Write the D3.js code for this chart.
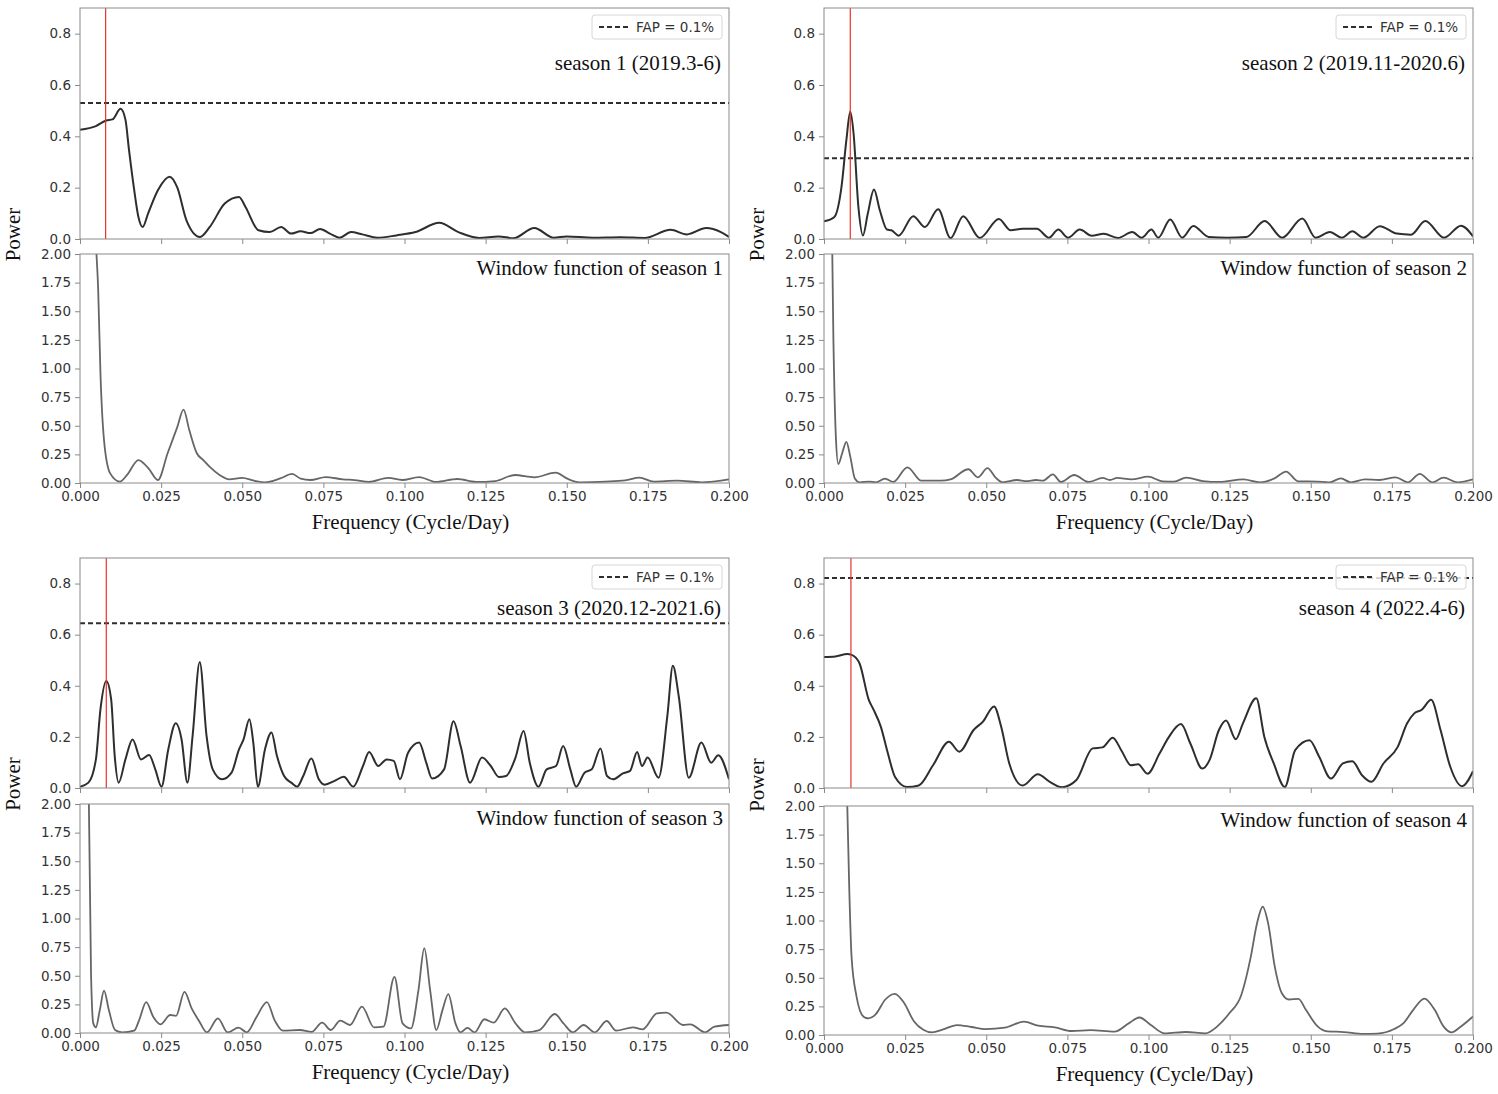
<!DOCTYPE html>
<html><head><meta charset="utf-8">
<script src="https://cdn.jsdelivr.net/npm/d3@7"></script>
<style>
body{margin:0;background:#fff;}
svg text{font-family:"DejaVu Sans",sans-serif;}
</style></head>
<body>
<svg id="chart" width="1498" height="1094"></svg>
<script>
// ---------- DATA ----------
const xTicks = [0, 0.025, 0.05, 0.075, 0.1, 0.125, 0.15, 0.175, 0.2];
const powerTicks = [0, 0.2, 0.4, 0.6, 0.8];
const windowTicks = [0, 0.25, 0.5, 0.75, 1.0, 1.25, 1.5, 1.75, 2.0];
const seasonTitles = ["season 1 (2019.3-6)", "season 2 (2019.11-2020.6)", "season 3 (2020.12-2021.6)", "season 4 (2022.4-6)"];
const windowTitles = ["Window function of season 1", "Window function of season 2", "Window function of season 3", "Window function of season 4"];
const fapLevels = [0.53, 0.315, 0.645, 0.822];
const markerFreq = [0.0079, 0.0081, 0.0081, 0.0083];

const s1Power = [[0,0.426],[0.0049,0.44],[0.0081,0.462],[0.010,0.466],[0.0125,0.507],[0.014,0.465],[0.0151,0.347],[0.0166,0.20],[0.018,0.086],[0.0193,0.047],[0.021,0.10],[0.024,0.19],[0.0276,0.243],[0.030,0.20],[0.0328,0.073],[0.037,0.008],[0.040,0.047],[0.0446,0.138],[0.049,0.164],[0.051,0.125],[0.055,0.034],[0.0585,0.027],[0.062,0.047],[0.065,0.021],[0.068,0.03],[0.071,0.023],[0.074,0.039],[0.077,0.021],[0.080,0.005],[0.0835,0.027],[0.087,0.018],[0.0916,0.005],[0.0975,0.014],[0.1034,0.027],[0.1107,0.063],[0.1166,0.027],[0.123,0.004],[0.129,0.01],[0.1335,0.003],[0.140,0.043],[0.146,0.005],[0.150,0.01],[0.158,0.005],[0.1666,0.007],[0.174,0.004],[0.182,0.036],[0.187,0.018],[0.193,0.043],[0.1975,0.027],[0.2,0.008]];
const s1Window = [[0.0035,3.2],[0.0049,2.1],[0.0056,1.69],[0.0063,0.96],[0.0074,0.375],[0.0093,0.084],[0.0123,0.012],[0.0145,0.07],[0.018,0.20],[0.0211,0.128],[0.024,0.026],[0.027,0.26],[0.030,0.49],[0.0319,0.64],[0.0337,0.46],[0.036,0.26],[0.038,0.20],[0.040,0.14],[0.043,0.07],[0.046,0.032],[0.050,0.044],[0.0536,0.02],[0.057,0.006],[0.0617,0.04],[0.0654,0.079],[0.068,0.038],[0.071,0.026],[0.0757,0.052],[0.081,0.032],[0.0846,0.026],[0.089,0.009],[0.095,0.044],[0.0993,0.026],[0.1045,0.052],[0.1097,0.009],[0.1163,0.035],[0.122,0.009],[0.128,0.017],[0.134,0.07],[0.140,0.05],[0.1466,0.09],[0.150,0.04],[0.154,0.006],[0.162,0.012],[0.168,0.023],[0.1724,0.047],[0.1768,0.012],[0.184,0.02],[0.1916,0.006],[0.1975,0.02],[0.2,0.032]];

const s2Power = [[0,0.069],[0.0032,0.086],[0.0054,0.204],[0.0069,0.386],[0.0081,0.497],[0.0091,0.413],[0.0106,0.125],[0.012,0.014],[0.0135,0.099],[0.0154,0.193],[0.0172,0.112],[0.0194,0.037],[0.0208,0.034],[0.023,0.013],[0.0275,0.089],[0.0311,0.047],[0.0352,0.116],[0.039,0.003],[0.0429,0.089],[0.048,0.004],[0.0539,0.078],[0.0575,0.034],[0.0612,0.04],[0.0656,0.04],[0.0693,0.005],[0.0722,0.037],[0.0752,0.005],[0.0788,0.037],[0.0825,0.013],[0.0862,0.02],[0.0906,0.004],[0.095,0.027],[0.0979,0.005],[0.1009,0.037],[0.103,0.005],[0.1067,0.076],[0.1104,0.005],[0.1138,0.051],[0.1185,0.008],[0.1243,0.005],[0.1302,0.008],[0.1358,0.07],[0.1412,0.005],[0.1474,0.08],[0.1515,0.005],[0.1559,0.027],[0.1596,0.005],[0.1628,0.03],[0.1662,0.005],[0.1713,0.05],[0.1765,0.021],[0.1809,0.017],[0.1853,0.07],[0.1911,0.005],[0.1963,0.052],[0.2,0.01]];
const s2Window = [[0.002,3.2],[0.0029,1.25],[0.0037,0.375],[0.0044,0.166],[0.0056,0.26],[0.0069,0.36],[0.0081,0.23],[0.0095,0.04],[0.011,0.006],[0.014,0.012],[0.016,0.006],[0.0188,0.038],[0.0213,0.009],[0.0257,0.137],[0.030,0.02],[0.036,0.02],[0.039,0.032],[0.0445,0.12],[0.0474,0.05],[0.0504,0.13],[0.0529,0.047],[0.055,0.006],[0.0595,0.026],[0.0624,0.017],[0.0653,0.026],[0.0675,0.02],[0.0705,0.076],[0.073,0.009],[0.0771,0.07],[0.0815,0.009],[0.0859,0.044],[0.0881,0.026],[0.0903,0.044],[0.0947,0.032],[0.0999,0.055],[0.1043,0.015],[0.1079,0.012],[0.1116,0.047],[0.1167,0.017],[0.1219,0.009],[0.1292,0.032],[0.1344,0.006],[0.1388,0.04],[0.1424,0.1],[0.1461,0.015],[0.152,0.012],[0.1557,0.006],[0.1593,0.04],[0.1623,0.006],[0.1667,0.032],[0.1711,0.026],[0.1762,0.05],[0.1799,0.006],[0.1836,0.08],[0.1875,0.006],[0.1909,0.047],[0.1953,0.006],[0.2,0.032]];

const s3Power = [[0,0.005],[0.0026,0.021],[0.0049,0.112],[0.0063,0.308],[0.0081,0.419],[0.0096,0.347],[0.0107,0.125],[0.0119,0.021],[0.014,0.112],[0.0162,0.19],[0.0188,0.112],[0.0213,0.129],[0.0232,0.073],[0.0251,0.005],[0.0272,0.151],[0.0295,0.253],[0.0313,0.19],[0.0331,0.021],[0.0347,0.204],[0.0369,0.493],[0.039,0.204],[0.0409,0.073],[0.0438,0.034],[0.0467,0.06],[0.049,0.151],[0.0504,0.19],[0.0522,0.269],[0.0534,0.178],[0.0548,0.005],[0.057,0.151],[0.059,0.217],[0.0607,0.125],[0.0629,0.047],[0.0651,0.021],[0.0669,0.005],[0.0688,0.047],[0.0713,0.115],[0.0736,0.034],[0.0754,0.013],[0.0783,0.027],[0.0813,0.044],[0.0842,0.005],[0.0872,0.086],[0.0891,0.141],[0.0919,0.086],[0.0945,0.112],[0.0967,0.106],[0.0986,0.034],[0.1011,0.138],[0.1045,0.178],[0.1067,0.099],[0.1085,0.037],[0.1122,0.073],[0.1151,0.261],[0.1173,0.164],[0.1202,0.021],[0.1239,0.119],[0.1266,0.086],[0.1291,0.043],[0.1313,0.047],[0.1342,0.119],[0.1367,0.223],[0.1386,0.099],[0.1413,0.005],[0.1438,0.073],[0.1467,0.086],[0.1489,0.164],[0.1511,0.073],[0.1529,0.005],[0.1555,0.06],[0.1577,0.073],[0.1604,0.155],[0.1624,0.047],[0.1643,0.034],[0.1673,0.057],[0.1695,0.067],[0.1717,0.141],[0.1732,0.086],[0.1749,0.119],[0.1783,0.04],[0.181,0.282],[0.1827,0.478],[0.1845,0.36],[0.1876,0.04],[0.1915,0.178],[0.1945,0.099],[0.1967,0.128],[0.2,0.034]];
const s3Window = [[0.0022,3.2],[0.0034,0.52],[0.0041,0.084],[0.0049,0.05],[0.0061,0.2],[0.0074,0.37],[0.0089,0.2],[0.0108,0.026],[0.013,0.006],[0.0167,0.02],[0.0182,0.11],[0.0204,0.27],[0.0226,0.14],[0.0248,0.076],[0.0278,0.157],[0.0296,0.15],[0.0322,0.36],[0.0344,0.215],[0.0366,0.11],[0.0391,0.006],[0.0425,0.128],[0.0455,0.006],[0.0489,0.047],[0.0514,0.006],[0.0544,0.14],[0.0576,0.27],[0.060,0.11],[0.0625,0.02],[0.0677,0.026],[0.0714,0.009],[0.0746,0.09],[0.0773,0.026],[0.0802,0.108],[0.0832,0.07],[0.0869,0.23],[0.0906,0.05],[0.0935,0.055],[0.0969,0.49],[0.0994,0.084],[0.102,0.04],[0.1043,0.375],[0.1061,0.74],[0.1079,0.375],[0.1098,0.026],[0.1117,0.2],[0.1135,0.34],[0.1157,0.084],[0.1172,0.006],[0.1194,0.044],[0.1216,0.006],[0.1246,0.12],[0.1275,0.09],[0.1309,0.215],[0.1342,0.084],[0.1371,0.006],[0.1416,0.026],[0.1463,0.166],[0.149,0.084],[0.1519,0.006],[0.1552,0.07],[0.1586,0.006],[0.1623,0.105],[0.1652,0.02],[0.1704,0.05],[0.1734,0.032],[0.1778,0.172],[0.1807,0.178],[0.1859,0.07],[0.1881,0.076],[0.1926,0.006],[0.1955,0.055],[0.2,0.07]];

const s4Power = [[0,0.513],[0.0035,0.515],[0.0072,0.524],[0.0085,0.521],[0.0109,0.489],[0.0138,0.345],[0.0153,0.306],[0.0175,0.24],[0.0197,0.135],[0.0219,0.043],[0.0256,0.004],[0.0292,0.01],[0.0336,0.089],[0.0385,0.181],[0.0417,0.142],[0.0461,0.227],[0.049,0.26],[0.0524,0.319],[0.0546,0.24],[0.0571,0.096],[0.0612,0.01],[0.0659,0.054],[0.0696,0.024],[0.0733,0.003],[0.0777,0.03],[0.0828,0.155],[0.0858,0.159],[0.089,0.197],[0.0916,0.148],[0.0946,0.089],[0.0968,0.093],[0.0997,0.056],[0.1034,0.135],[0.1063,0.20],[0.11,0.25],[0.1129,0.174],[0.1166,0.076],[0.1188,0.109],[0.1217,0.227],[0.1239,0.264],[0.1269,0.191],[0.1291,0.253],[0.1332,0.351],[0.1357,0.20],[0.1386,0.096],[0.142,0.004],[0.1452,0.148],[0.1496,0.187],[0.1526,0.122],[0.1562,0.037],[0.1599,0.096],[0.1628,0.105],[0.1658,0.05],[0.1687,0.024],[0.1724,0.096],[0.1768,0.161],[0.1797,0.253],[0.1819,0.292],[0.1842,0.306],[0.1871,0.345],[0.19,0.227],[0.193,0.083],[0.1966,0.007],[0.2,0.066]];
const s4Window = [[0.0062,3.2],[0.0071,2.1],[0.0078,1.26],[0.0085,0.68],[0.010,0.34],[0.0122,0.16],[0.0137,0.145],[0.0159,0.18],[0.0189,0.31],[0.0218,0.36],[0.0247,0.28],[0.0277,0.12],[0.0306,0.046],[0.0333,0.023],[0.0365,0.046],[0.041,0.087],[0.0454,0.07],[0.0498,0.052],[0.0557,0.064],[0.0616,0.116],[0.066,0.081],[0.0711,0.067],[0.0763,0.035],[0.0822,0.043],[0.0895,0.029],[0.094,0.104],[0.0972,0.153],[0.1006,0.09],[0.105,0.014],[0.1116,0.026],[0.1175,0.014],[0.1212,0.075],[0.1249,0.19],[0.1286,0.35],[0.1315,0.68],[0.1334,0.97],[0.1352,1.12],[0.1369,0.97],[0.1389,0.6],[0.1411,0.365],[0.1433,0.31],[0.1462,0.315],[0.1485,0.22],[0.1521,0.075],[0.1551,0.032],[0.1602,0.026],[0.1661,0.009],[0.1705,0.012],[0.1757,0.052],[0.1786,0.104],[0.1816,0.22],[0.185,0.318],[0.1882,0.22],[0.1909,0.075],[0.1934,0.023],[0.1963,0.075],[0.2,0.162]];

const powerSeries = [s1Power, s2Power, s3Power, s4Power];
const windowSeries = [s1Window, s2Window, s3Window, s4Window];

// ---------- LAYOUT ----------
const layouts = [
  {x0:80,  x1:729,  up:[8,239],   lo:[254,483],  tY:70},
  {x0:824, x1:1473, up:[8,239],   lo:[254,483],  tY:70},
  {x0:80,  x1:729,  up:[558,788], lo:[804,1033], tY:615},
  {x0:824, x1:1473, up:[558,788], lo:[806,1035], tY:615}
];

const svg = d3.select("#chart");
const defs = svg.append("defs");
const spineColor = "#8a8a8a";
const tickTextColor = "#333";
const serif = "'Liberation Serif', 'Times New Roman', serif";

function styleAxis(g){
  g.select(".domain").remove();
  g.selectAll(".tick line").attr("stroke", spineColor).attr("stroke-width", 1);
  g.selectAll(".tick text").attr("fill", tickTextColor).style("font-size","13.5px").style("font-family","'DejaVu Sans', sans-serif");
}

layouts.forEach((L, i) => {
  const x = d3.scaleLinear().domain([0, 0.2]).range([L.x0, L.x1]);
  const yU = d3.scaleLinear().domain([0, 0.9]).range([L.up[1], L.up[0]]);
  const yL = d3.scaleLinear().domain([0, 2]).range([L.lo[1], L.lo[0]]);

  defs.append("clipPath").attr("id","cu"+i).append("rect")
    .attr("x", L.x0).attr("y", L.up[0]).attr("width", L.x1-L.x0).attr("height", L.up[1]-L.up[0]);
  defs.append("clipPath").attr("id","cl"+i).append("rect")
    .attr("x", L.x0).attr("y", L.lo[0]).attr("width", L.x1-L.x0).attr("height", L.lo[1]-L.lo[0]);

  // ---- upper panel ----
  const gU = svg.append("g");
  gU.append("g").attr("transform",`translate(0,${L.up[1]})`)
    .call(d3.axisBottom(x).tickValues(xTicks).tickSize(5).tickFormat(""))
    .call(styleAxis);
  gU.append("g").attr("transform",`translate(${L.x0},0)`)
    .call(d3.axisLeft(yU).tickValues(powerTicks).tickSize(5).tickPadding(4).tickFormat(d3.format(".1f")))
    .call(styleAxis);

  const lineU = d3.line().x(d=>x(d[0])).y(d=>yU(d[1])).curve(d3.curveMonotoneX);
  gU.append("path").datum(powerSeries[i]).attr("d", lineU)
    .attr("fill","none").attr("stroke","#2e2e2e").attr("stroke-width",2)
    .attr("clip-path",`url(#cu${i})`);

  gU.append("line").attr("x1", L.x0).attr("x2", L.x1)
    .attr("y1", yU(fapLevels[i])).attr("y2", yU(fapLevels[i]))
    .attr("stroke","#2e2e2e").attr("stroke-width",2).attr("stroke-dasharray","5,3");

  gU.append("line").attr("x1", x(markerFreq[i])).attr("x2", x(markerFreq[i]))
    .attr("y1", L.up[0]).attr("y2", L.up[1])
    .attr("stroke","#e8312a").attr("stroke-width",1.2);

  gU.append("rect").attr("x", L.x0).attr("y", L.up[0]).attr("width", L.x1-L.x0).attr("height", L.up[1]-L.up[0])
    .attr("fill","none").attr("stroke",spineColor).attr("stroke-width",1);

  // legend
  const lx = L.x1 - 137, ly = L.up[0] + 7;
  const leg = gU.append("g");
  leg.append("rect").attr("x", lx).attr("y", ly).attr("width", 130).attr("height", 24).attr("rx", 3)
    .attr("fill","#fff").attr("fill-opacity",0.8).attr("stroke","#d6d6d6").attr("stroke-width",1);
  leg.append("line").attr("x1", lx+7).attr("x2", lx+36).attr("y1", ly+12).attr("y2", ly+12)
    .attr("stroke","#2e2e2e").attr("stroke-width",2).attr("stroke-dasharray","5,3");
  leg.append("text").attr("x", lx+44).attr("y", ly+17).text("FAP = 0.1%")
    .attr("fill","#333").style("font-size","13.5px");

  gU.append("text").attr("x", L.x1 - 8).attr("y", L.tY).attr("text-anchor","end")
    .style("font-family",serif).style("font-size","21px")
    .attr("fill","#111").text(seasonTitles[i]);

  // ---- lower panel ----
  const gL = svg.append("g");
  gL.append("g").attr("transform",`translate(0,${L.lo[1]})`)
    .call(d3.axisBottom(x).tickValues(xTicks).tickSize(5).tickPadding(3).tickFormat(d3.format(".3f")))
    .call(styleAxis);
  gL.append("g").attr("transform",`translate(${L.x0},0)`)
    .call(d3.axisLeft(yL).tickValues(windowTicks).tickSize(5).tickPadding(4).tickFormat(d3.format(".2f")))
    .call(styleAxis);

  const lineL = d3.line().x(d=>x(d[0])).y(d=>yL(d[1])).curve(d3.curveMonotoneX);
  gL.append("path").datum(windowSeries[i]).attr("d", lineL)
    .attr("fill","none").attr("stroke","#666").attr("stroke-width",1.8)
    .attr("clip-path",`url(#cl${i})`);

  gL.append("rect").attr("x", L.x0).attr("y", L.lo[0]).attr("width", L.x1-L.x0).attr("height", L.lo[1]-L.lo[0])
    .attr("fill","none").attr("stroke",spineColor).attr("stroke-width",1);

  gL.append("text").attr("x", L.x1 - 6).attr("y", L.lo[0] + 21).attr("text-anchor","end")
    .style("font-family",serif).style("font-size","21px")
    .attr("fill","#111").text(windowTitles[i]);

  gL.append("text").attr("x", (L.x0+L.x1)/2 + 6).attr("y", L.lo[1] + 46).attr("text-anchor","middle")
    .style("font-family",serif).style("font-size","21px")
    .attr("fill","#111").text("Frequency (Cycle/Day)");

  const cy = (L.up[1] + L.lo[0]) / 2 - 12;
  svg.append("text").attr("transform",`translate(${L.x0-60},${cy}) rotate(-90)`).attr("text-anchor","middle")
    .style("font-family",serif).style("font-size","21px")
    .attr("fill","#111").text("Power");
});
</script>
</body></html>
